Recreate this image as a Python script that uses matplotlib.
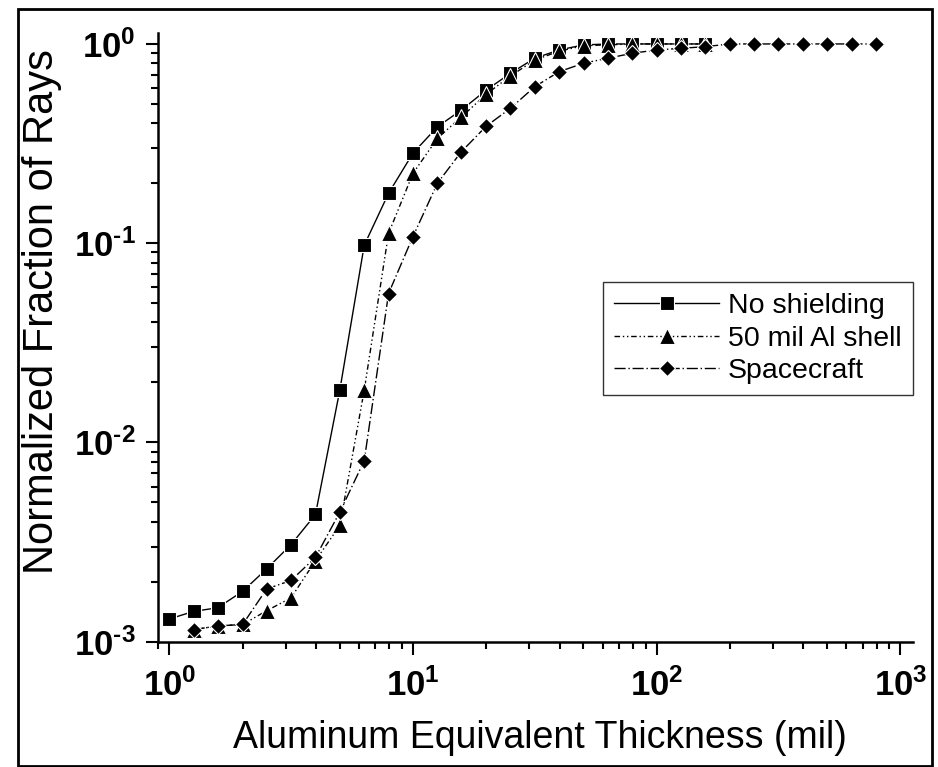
import matplotlib
matplotlib.use('Agg')
import matplotlib.pyplot as plt
import numpy as np
from matplotlib.ticker import LogLocator, FuncFormatter, NullFormatter
from matplotlib.patches import Rectangle

plt.rcParams['font.family'] = ['Liberation Sans', 'DejaVu Sans']
plt.rcParams['mathtext.fontset'] = 'custom'
plt.rcParams['mathtext.rm'] = 'Liberation Sans:bold'
plt.rcParams['mathtext.bf'] = 'Liberation Sans:bold'

# thickness steps, mil (10 per decade)
x_none = [1.0, 1.26, 1.58, 2.0, 2.51, 3.16, 3.98, 5.01, 6.31, 7.94, 10.0, 12.6,
          15.8, 20.0, 25.1, 31.6, 39.8, 50.1, 63.1, 79.4, 100, 126, 158]
y_none = [1.30e-3, 1.42e-3, 1.48e-3, 1.79e-3, 2.32e-3, 3.07e-3, 4.35e-3, 1.83e-2,
          9.77e-2, 0.178, 0.283, 0.384, 0.466, 0.587, 0.712, 0.848, 0.933, 0.989,
          1.0, 1.0, 1.0, 1.0, 1.0]

x_shell = [1.26, 1.58, 2.0, 2.51, 3.16, 3.98, 5.01, 6.31, 7.94, 10.0, 12.6,
           15.8, 20.0, 25.1, 31.6, 39.8, 50.1, 63.1, 79.4, 100, 126, 158]
y_shell = [1.15e-3, 1.20e-3, 1.22e-3, 1.43e-3, 1.66e-3, 2.55e-3, 3.83e-3, 1.83e-2,
           0.112, 0.224, 0.336, 0.43, 0.56, 0.69, 0.83, 0.92, 0.98, 0.99,
           1.0, 1.0, 1.0, 1.0]

x_craft = [1.26, 1.58, 2.0, 2.51, 3.16, 3.98, 5.01, 6.31, 7.94, 10.0, 12.6,
           15.8, 20.0, 25.1, 31.6, 39.8, 50.1, 63.1, 79.4, 100, 126, 158,
           200, 251, 316, 398, 501, 631, 794]
y_craft = [1.15e-3, 1.20e-3, 1.22e-3, 1.84e-3, 2.03e-3, 2.65e-3, 4.47e-3, 8.1e-3,
           0.0559, 0.108, 0.20, 0.288, 0.387, 0.475, 0.61, 0.726, 0.80, 0.848,
           0.898, 0.933, 0.951, 0.969, 1.0, 1.0, 1.0, 1.0, 1.0, 1.0, 1.0]

fig = plt.figure(figsize=(9.38, 7.67), dpi=100)
ax = fig.add_axes([158/938, 1-641.7/767, 755/938, 608.7/767])

ax.plot(x_none, y_none, color='black', lw=1.0, ls='-', marker='s', ms=10,
        mec='white', mew=0.8, label='No shielding')
ax.plot(x_shell, y_shell, color='black', lw=1.0, ls=(0, (4, 2, 1, 2, 1, 2)),
        marker='^', ms=11, mec='white', mew=0.8, label='50 mil Al shell')
ax.plot(x_craft, y_craft, color='black', lw=1.0, ls=(0, (8, 2, 1, 2)),
        marker='D', ms=8.5, mec='white', mew=0.8, label='Spacecraft')

ax.set_xscale('log')
ax.set_yscale('log')
ax.set_xlim(0.899, 1127)
ax.set_ylim(1e-3, 1.135)

for s in ['top', 'right']:
    ax.spines[s].set_visible(False)
for s in ['left', 'bottom']:
    ax.spines[s].set_linewidth(1.8)


def exp_label(v, p):
    e = int(round(np.log10(v)))
    if e < 0:
        return r'$\mathbf{10^{\text{-}%d}}$' % (-e)
    return r'$\mathbf{10^{%d}}$' % e


fmt = FuncFormatter(exp_label)
for axis in [ax.xaxis, ax.yaxis]:
    axis.set_major_locator(LogLocator(base=10, numticks=10))
    axis.set_minor_locator(LogLocator(base=10, subs=np.arange(2, 10), numticks=10))
    axis.set_major_formatter(fmt)
    axis.set_minor_formatter(NullFormatter())

ax.tick_params(which='major', direction='out', length=9, width=1.5, labelsize=25)
ax.tick_params(which='minor', direction='out', length=5, width=1.5)
ax.tick_params(axis='x', which='major', pad=10)
ax.tick_params(axis='y', which='major', pad=7)

ax.set_xlabel('Aluminum Equivalent Thickness (mil)', fontsize=27)
ax.xaxis.set_label_coords((540-158)/755, (641.7-720)/608.7)
ax.set_ylabel('Normalized Fraction of Rays', fontsize=30)
ax.yaxis.set_label_coords((62-158)/755, (641.7-312)/608.7)

leg = ax.legend(loc='upper right', bbox_to_anchor=(913/938, 1-282/767),
                bbox_transform=fig.transFigure, fontsize=20.5, frameon=True,
                fancybox=False, edgecolor='black', borderaxespad=0,
                handlelength=3.7, handletextpad=0.3, labelspacing=0.22,
                borderpad=0.4)
leg.get_frame().set_linewidth(1.0)

fig.patches.append(Rectangle((18/938, 1/767), 914/938, 757/767, fill=False,
                             lw=2, ec='black', transform=fig.transFigure))

fig.savefig('out.png', dpi=100)
